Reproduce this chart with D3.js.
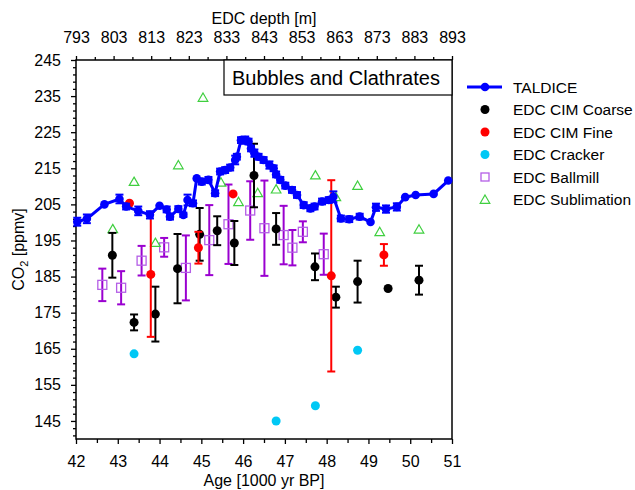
<!DOCTYPE html>
<html><head><meta charset="utf-8">
<script src="https://cdn.jsdelivr.net/npm/d3@7"></script>
<style>
body{margin:0;background:#fff;}
text{font-family:"Liberation Sans",Arial,sans-serif;fill:#000;}
</style></head>
<body><svg id="c" width="635" height="490"></svg>
<script>
// ---- data ----
const ageTicks = [42,43,44,45,46,47,48,49,50,51];
const depthTicks = [793,803,813,823,833,843,853,863,873,883,893];
const yTicks = [145,155,165,175,185,195,205,215,225,235,245];

const taldiceAge = [42.03,42.26,42.68,43.04,43.20,43.49,43.77,44.00,44.17,44.25,44.45,44.57,44.67,44.80,44.89,45.01,45.17,45.33,45.45,45.57,45.69,45.81,45.85,45.95,46.05,46.13,46.19,46.27,46.37,46.49,46.63,46.73,46.79,46.89,47.01,47.17,47.29,47.45,47.61,47.71,47.89,48.05,48.16,48.34,48.54,48.79,49.05,49.18,49.42,49.68,49.88,50.13,50.56,50.91];
const taldiceCO2 = [200.2,201.0,205.0,206.5,204.4,203.2,202.1,204.6,203.6,201.6,203.7,202.1,206.2,205.3,212.2,211.3,211.8,208.1,214.1,214.5,215.2,217.3,218.2,222.8,222.8,222.4,220.5,219.2,218.2,217.3,215.9,215.0,213.3,211.8,210.2,209.0,207.6,204.8,203.9,204.4,205.8,206.2,207.1,201.1,200.9,201.6,200.1,204.2,203.7,204.3,207.0,207.6,207.9,211.6];
const taldiceErr = [1.1,1.2,0,1.2,0.8,1.2,1.0,0,0.8,0.8,0.8,0.6,1.5,0.8,0,0.8,0.8,0.8,0.8,0.8,0.8,1.2,0.8,0.8,1.0,0.8,0.8,1.0,0.8,0.8,1.0,0.8,0.8,0.8,0.8,0.8,0.8,0.8,0.8,0.8,0.8,0.8,1.5,0.8,0.8,0.8,0,1.0,1.0,1.0,0,0,0,0];

const coarseAge = [42.87,43.39,43.90,44.43,44.96,45.38,45.79,46.26,46.79,47.72,48.22,48.74,49.47,50.21];
const coarseCO2 = [190.9,172.3,174.6,187.2,196.7,197.7,194.3,213.0,198.2,187.7,179.3,183.6,181.7,184.0];
const coarseErr = [6.2,2.2,7.6,9.6,7.3,4.0,6.1,8.8,4.4,3.7,2.9,5.8,0,4.0];

const fineAge = [43.28,43.79,44.93,45.76,48.11,49.37];
const fineCO2 = [205.3,185.6,193.0,207.9,185.2,191.0];
const fineErr = [0,17.3,4.4,0,26.5,3.0];

const crackerAge = [43.39,46.79,47.73,48.74];
const crackerCO2 = [163.6,145.0,149.2,164.6];

const ballAge = [42.63,43.08,43.57,44.11,44.63,45.19,45.65,46.17,46.51,46.97,47.18,47.43,47.93];
const ballCO2 = [182.7,181.9,189.4,193.1,187.4,195.1,199.5,203.3,198.4,196.5,193.0,197.4,191.2];
const ballErr = [4.5,4.6,4.1,2.6,9.0,9.7,11.0,8.1,13.2,8.1,4.9,2.9,5.7];

const sublAge = [42.88,43.39,43.90,44.45,45.04,45.47,45.89,46.35,46.79,47.73,48.22,48.74,49.27,50.21];
const sublCO2 = [198.2,211.3,194.4,215.9,234.6,211.1,205.7,208.2,209.2,213.1,207.1,210.2,197.4,198.1];

const legendLabels = ["TALDICE","EDC CIM Coarse","EDC CIM Fine","EDC Cracker","EDC Ballmill","EDC Sublimation"];

// ---- layout ----
const L=76,R=452,T=60,B=439;
const svg=d3.select("#c");
const x=d3.scaleLinear().domain([42,51]).range([L,R]);
const xTop=d3.scaleLinear().domain([793,893]).range([L,R]);
const y=d3.scaleLinear().domain([140,245]).range([B,T]);

const C={blue:"#0000ff",black:"#000",red:"#ff0000",cyan:"#00c8f5",purple:"#9a00d0",sq:"#b45ee6",green:"#3fcf3f"};

// axes
function styleAxis(g,fs){g.selectAll("path.domain").remove();g.selectAll("line").attr("stroke","#000").attr("stroke-width",1.3);g.selectAll("text").style("font-size",fs+"px").attr("fill","#000");}
svg.append("g").attr("transform",`translate(0,${B})`)
  .call(d3.axisBottom(x).tickValues(ageTicks).tickFormat(d3.format("d")).tickSize(5).tickPadding(12)).call(g=>styleAxis(g,16));
svg.append("g").attr("transform",`translate(0,${B})`)
  .call(d3.axisBottom(x).tickValues(ageTicks.slice(0,-1).map(d=>d+0.5)).tickFormat("").tickSize(4)).call(g=>styleAxis(g,16));
svg.append("g").attr("transform",`translate(${L},0)`)
  .call(d3.axisLeft(y).tickValues(yTicks).tickFormat(d3.format("d")).tickSize(5).tickPadding(10)).call(g=>styleAxis(g,16));
svg.append("g").attr("transform",`translate(${L},0)`)
  .call(d3.axisLeft(y).tickValues(d3.range(141,245,2).filter(v=>(v-145)%10!==0)).tickFormat("").tickSize(3)).call(g=>styleAxis(g,16));
svg.append("g").attr("transform",`translate(0,${T})`)
  .call(d3.axisTop(xTop).tickValues(depthTicks).tickFormat(d3.format("d")).tickSize(4).tickPadding(13)).call(g=>styleAxis(g,16));
svg.append("g").attr("transform",`translate(0,${T})`)
  .call(d3.axisTop(xTop).tickValues(depthTicks.slice(0,-1).map(d=>d+5)).tickFormat("").tickSize(3)).call(g=>styleAxis(g,16));
svg.append("rect").attr("x",L).attr("y",T).attr("width",R-L).attr("height",B-T).attr("fill","none").attr("stroke","#000").attr("stroke-width",1.5);

// titles
svg.append("text").attr("x",(L+R)/2).attr("y",486).attr("text-anchor","middle").style("font-size","16px").text("Age [1000 yr BP]");
svg.append("text").attr("x",(L+R)/2).attr("y",24).attr("text-anchor","middle").style("font-size","16px").text("EDC depth [m]");
const yl=svg.append("text").attr("transform",`translate(24,${(T+B)/2}) rotate(-90)`).attr("text-anchor","middle").style("font-size","16px");
yl.append("tspan").text("CO");
yl.append("tspan").attr("dy",4).style("font-size","11px").text("2");
yl.append("tspan").attr("dy",-4).text(" [ppmv]");

const plot=svg.append("g");

function errBars(ages,vals,errs,color,w){
  const d=ages.map((a,i)=>({a,v:vals[i],e:errs[i]})).filter(o=>o.e>0);
  const g=plot.append("g").attr("stroke",color).attr("stroke-width",w||2);
  g.selectAll(".v").data(d).join("line").attr("x1",o=>x(o.a)).attr("x2",o=>x(o.a)).attr("y1",o=>y(o.v-o.e)).attr("y2",o=>y(o.v+o.e));
  g.selectAll(".t").data(d).join("line").attr("x1",o=>x(o.a)-4).attr("x2",o=>x(o.a)+4).attr("y1",o=>y(o.v+o.e)).attr("y2",o=>y(o.v+o.e));
  g.selectAll(".b").data(d).join("line").attr("x1",o=>x(o.a)-4).attr("x2",o=>x(o.a)+4).attr("y1",o=>y(o.v-o.e)).attr("y2",o=>y(o.v-o.e));
}

// ballmill
errBars(ballAge,ballCO2,ballErr,C.purple,2);
plot.append("g").selectAll("rect").data(ballAge).join("rect")
  .attr("x",(a)=>x(a)-4.5).attr("y",(a,i)=>y(ballCO2[i])-4.5).attr("width",9).attr("height",9)
  .attr("fill","none").attr("stroke",C.sq).attr("stroke-width",1.3);
// sublimation
const tri=d3.symbol().type(d3.symbolTriangle).size(40);
plot.append("g").selectAll("path").data(sublAge).join("path").attr("d",tri)
  .attr("transform",(a,i)=>`translate(${x(a)},${y(sublCO2[i])+1})`).attr("fill","none").attr("stroke",C.green).attr("stroke-width",1.2);
// cracker
plot.append("g").selectAll("circle").data(crackerAge).join("circle")
  .attr("cx",a=>x(a)).attr("cy",(a,i)=>y(crackerCO2[i])).attr("r",4.5).attr("fill",C.cyan);
// coarse
errBars(coarseAge,coarseCO2,coarseErr,C.black,2);
plot.append("g").selectAll("circle").data(coarseAge).join("circle")
  .attr("cx",a=>x(a)).attr("cy",(a,i)=>y(coarseCO2[i])).attr("r",4.5).attr("fill",C.black);
// fine
errBars(fineAge,fineCO2,fineErr,C.red,2);
plot.append("g").selectAll("circle").data(fineAge).join("circle")
  .attr("cx",a=>x(a)).attr("cy",(a,i)=>y(fineCO2[i])).attr("r",4.5).attr("fill",C.red);
// taldice
errBars(taldiceAge,taldiceCO2,taldiceErr,C.blue,2);
plot.append("path").datum(taldiceAge.map((a,i)=>[a,taldiceCO2[i]]))
  .attr("d",d3.line().x(d=>x(d[0])).y(d=>y(d[1]))).attr("fill","none").attr("stroke",C.blue).attr("stroke-width",3);
plot.append("g").selectAll("circle").data(taldiceAge).join("circle")
  .attr("cx",a=>x(a)).attr("cy",(a,i)=>y(taldiceCO2[i])).attr("r",4.3).attr("fill",C.blue);

// title box
svg.append("rect").attr("x",224).attr("y",T).attr("width",R-224).attr("height",35).attr("fill","#fff").attr("stroke","#000").attr("stroke-width",1.2);
svg.append("text").attr("x",232).attr("y",85).style("font-size","20px").text("Bubbles and Clathrates");

// legend
const lg=svg.append("g");
const ly=i=>87+i*22.5;
lg.append("line").attr("x1",467).attr("x2",502).attr("y1",ly(0)).attr("y2",ly(0)).attr("stroke",C.blue).attr("stroke-width",3);
lg.append("circle").attr("cx",485).attr("cy",ly(0)).attr("r",4.3).attr("fill",C.blue);
lg.append("circle").attr("cx",485).attr("cy",ly(1)).attr("r",4.5).attr("fill",C.black);
lg.append("circle").attr("cx",485).attr("cy",ly(2)).attr("r",4.5).attr("fill",C.red);
lg.append("circle").attr("cx",485).attr("cy",ly(3)).attr("r",4.5).attr("fill",C.cyan);
lg.append("rect").attr("x",481).attr("y",ly(4)-4).attr("width",8).attr("height",8).attr("fill","none").attr("stroke",C.sq).attr("stroke-width",1.3);
lg.append("path").attr("d",tri).attr("transform",`translate(485,${ly(5)+1})`).attr("fill","none").attr("stroke",C.green).attr("stroke-width",1.2);
lg.selectAll("text").data(legendLabels).join("text").attr("x",513).attr("y",(d,i)=>ly(i)+5.5).style("font-size","15.5px").text(d=>d);
</script></body></html>
